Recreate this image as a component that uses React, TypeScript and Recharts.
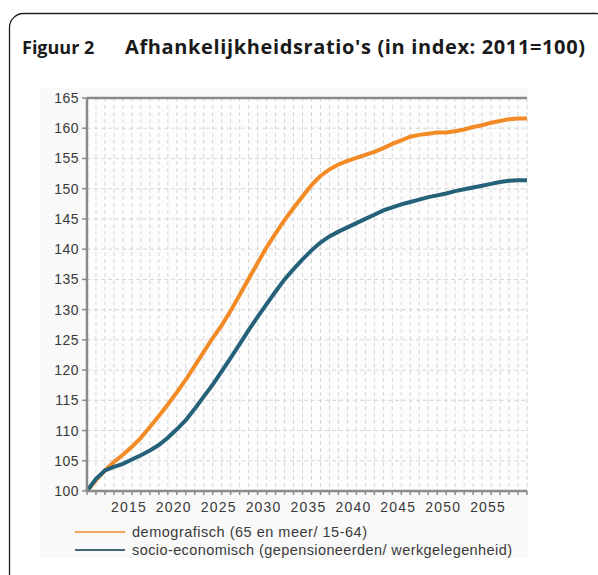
import React from 'react';
import { LineChart, Line, XAxis, YAxis, CartesianGrid, ReferenceLine } from 'recharts';

const years = [
  2011, 2012, 2013, 2014, 2015, 2016, 2017, 2018, 2019, 2020,
  2021, 2022, 2023, 2024, 2025, 2026, 2027, 2028, 2029, 2030,
  2031, 2032, 2033, 2034, 2035, 2036, 2037, 2038, 2039, 2040,
  2041, 2042, 2043, 2044, 2045, 2046, 2047, 2048, 2049, 2050,
  2051, 2052, 2053, 2054, 2055, 2056, 2057, 2058, 2059, 2060,
];

const demografisch = [
  100.0, 101.8, 103.4, 104.8, 106.0, 107.3, 108.8, 110.6, 112.4, 114.3,
  116.3, 118.4, 120.7, 123.0, 125.3, 127.4, 129.8, 132.4, 135.1, 137.7,
  140.3, 142.6, 144.8, 146.8, 148.7, 150.6, 152.1, 153.2, 154.0, 154.6,
  155.1, 155.6, 156.1, 156.7, 157.4, 158.0, 158.6, 158.9, 159.1, 159.3,
  159.3, 159.5, 159.8, 160.2, 160.5, 160.9, 161.2, 161.5, 161.6, 161.6,
];

const socioEconomisch = [
  100.0, 102.0, 103.4, 104.0, 104.5, 105.2, 105.9, 106.7, 107.6, 108.8,
  110.2, 111.7, 113.6, 115.6, 117.6, 119.8, 122.0, 124.3, 126.6, 128.8,
  130.9, 133.0, 135.0, 136.7, 138.3, 139.8, 141.1, 142.1, 142.9, 143.6,
  144.3, 145.0, 145.7, 146.4, 146.9, 147.4, 147.8, 148.2, 148.6, 148.9,
  149.2, 149.6, 149.9, 150.2, 150.5, 150.8, 151.1, 151.3, 151.4, 151.4,
];

const yTicks = [100, 105, 110, 115, 120, 125, 130, 135, 140, 145, 150, 155, 160, 165];
const xLabelYears = [2015, 2020, 2025, 2030, 2035, 2040, 2045, 2050, 2055];

const figureLabel = 'Figuur 2';
const figureTitle = "Afhankelijkheidsratio's (in index: 2011=100)";
const seriesNames = [
  'demografisch (65 en meer/ 15-64)',
  'socio-economisch (gepensioneerden/ werkgelegenheid)',
];
const seriesColors = ['#f28a26', '#25627a'];
const legendColors = ['#f0a560', '#3d6878'];

const data = years.map((year, i) => ({
  year,
  demo: demografisch[i],
  socio: socioEconomisch[i],
}));

const AXIS_FONT = '"Liberation Sans", Arial, sans-serif';
const TITLE_FONT = '"Open Sans", sans-serif';

const XTick = (props: any) => {
  const { x, y, payload } = props;
  if (!xLabelYears.includes(payload.value)) return <g />;
  return (
    <text x={x + 6} y={y} dy={15} textAnchor="middle" fill="#3a3a3a" fontSize={14} letterSpacing={1.2} fontFamily={AXIS_FONT}>
      {payload.value}
    </text>
  );
};

export default function App() {
  return (
    <div style={{ position: 'absolute', left: 0, top: 0, width: 598, height: 575, background: '#fff', overflow: 'hidden' }}>
      <svg width={598} height={575} style={{ position: 'absolute', left: 0, top: 0 }}>
        <rect x={40} y={88} width={488} height={470} fill="#f9f9f9" />
        <rect x={9.5} y={13.5} width={600} height={600} rx={14} ry={14} fill="none" stroke="#222" strokeWidth={1.3} />
      </svg>
      <div style={{ position: 'absolute', left: 0, top: 0 }}>
        <LineChart
          width={598}
          height={575}
          data={data}
          margin={{ top: 98, right: 71, left: 37, bottom: 54 }}
        >
          <CartesianGrid stroke="#d6d6d6" strokeDasharray="4 3" fill="#fdfdfd" />
          <XAxis
            dataKey="year"
            type="number"
            domain={[2011, 2060]}
            ticks={years}
            interval={0}
            height={30}
            tickSize={4}
            tickLine={{ stroke: '#8a8a8a', strokeWidth: 1.5 }}
            axisLine={{ stroke: '#8a8a8a', strokeWidth: 2.5 }}
            tick={<XTick />}
          />
          <YAxis
            type="number"
            domain={[100, 165]}
            ticks={yTicks}
            interval={0}
            width={50}
            tickSize={5}
            tickMargin={3}
            tickLine={{ stroke: '#8a8a8a', strokeWidth: 1.5 }}
            axisLine={{ stroke: '#8a8a8a', strokeWidth: 2.5 }}
            tick={{ fill: '#3a3a3a', fontSize: 14, fontFamily: AXIS_FONT, letterSpacing: 0.5 }}
          />
          <ReferenceLine y={165} stroke="#8a8a8a" strokeWidth={2.5} />
          <Line type="linear" dataKey="demo" stroke={seriesColors[0]} strokeWidth={4} dot={false} isAnimationActive={false} />
          <Line type="linear" dataKey="socio" stroke={seriesColors[1]} strokeWidth={4} dot={false} isAnimationActive={false} />
        </LineChart>
      </div>
      <svg width={598} height={575} style={{ position: 'absolute', left: 0, top: 0, pointerEvents: 'none' }}>
        <text x={22} y={54} fontFamily={TITLE_FONT} fontWeight={700} fontSize={18} fill="#1a1a1a">{figureLabel}</text>
        <text x={125} y={54} fontFamily={TITLE_FONT} fontWeight={700} fontSize={20} fill="#1a1a1a" textLength={460} lengthAdjust="spacing">{figureTitle}</text>
        {seriesNames.map((name, i) => (
          <g key={name}>
            <line x1={75} x2={125} y1={532 + i * 18} y2={532 + i * 18} stroke={legendColors[i]} strokeWidth={2} />
            <text x={132} y={537 + i * 18} fontFamily={AXIS_FONT} fontSize={14.5} fill="#3a3a3a" textLength={i === 0 ? 235 : 380} lengthAdjust="spacing">{name}</text>
          </g>
        ))}
      </svg>
    </div>
  );
}
